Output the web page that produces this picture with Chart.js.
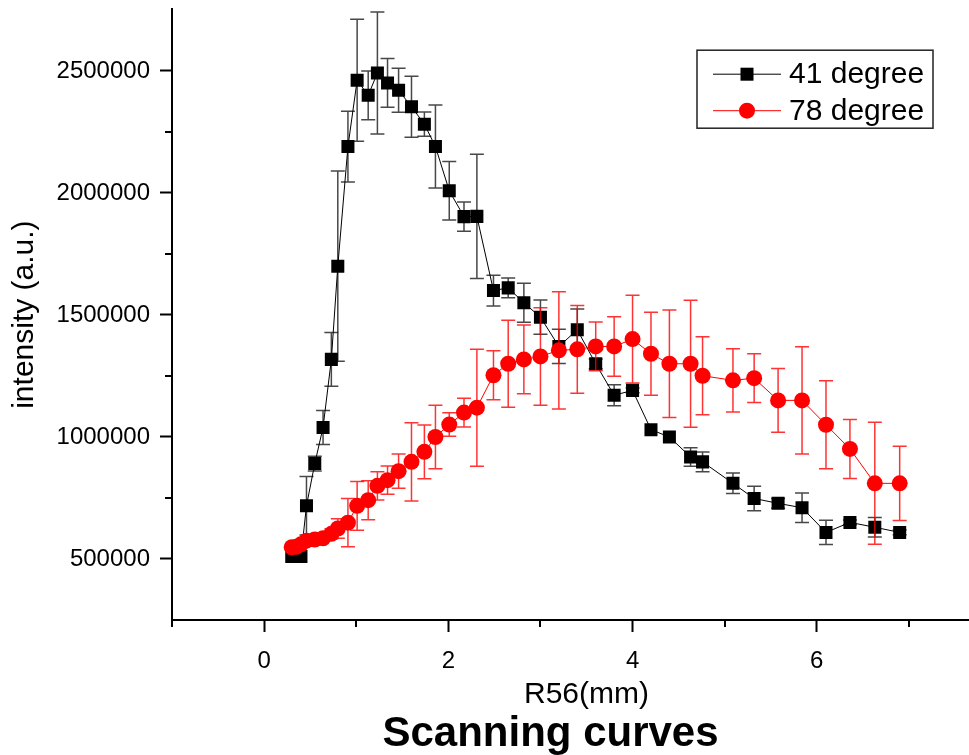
<!DOCTYPE html>
<html lang="en">
<head>
<meta charset="UTF-8">
<title>Scanning curves</title>
<script src="https://cdn.jsdelivr.net/npm/chart.js@4.4.1/dist/chart.umd.min.js"></script>
<style>
    html, body { margin: 0; padding: 0; background: #fff; overflow: hidden; }
    #chart-wrap { width: 1101px; height: 755px; }
</style>
</head>
<body>
<div id="chart-wrap"><canvas id="scan-chart"></canvas></div>
<script>
// 測定位置 R56 (mm)
const r56 = [0.30, 0.35, 0.40, 0.46, 0.55, 0.64, 0.73, 0.80, 0.91, 1.01, 1.13, 1.23, 1.34, 1.46,
    1.60, 1.74, 1.86, 2.01, 2.17, 2.31, 2.49, 2.65, 2.82, 3.00, 3.20, 3.40, 3.60, 3.80, 4.00,
    4.20, 4.40, 4.63, 4.76, 5.09, 5.32, 5.58, 5.84, 6.10, 6.36, 6.63, 6.90];

// 41 degree の強度と誤差
const intensity41 = [510000, 510000, 510000, 718000, 891000, 1039000, 1318000, 1700000, 2190000,
    2462000, 2400000, 2492000, 2451000, 2421000, 2353000, 2282000, 2190000, 2009000, 1903000,
    1904000, 1600000, 1611000, 1550000, 1491000, 1371000, 1439000, 1300000, 1171000, 1191000,
    1030000, 1000000, 918000, 898000, 810000, 748000, 728000, 710000, 609000, 650000, 630000, 609000];
const error41 = [0, 0, 0, 120000, 30000, 70000, 110000, 390000, 145000, 250000, 100000, 250000,
    100000, 90000, 125000, 50000, 170000, 120000, 60000, 255000, 63000, 40000, 80000, 70000,
    70000, 85000, 20000, 43000, 10000, 0, 0, 38000, 40000, 42000, 50000, 20000, 60000, 50000,
    10000, 40000, 10000];

// 78 degree の強度と誤差
const intensity78 = [548000, 550000, 560000, 575000, 580000, 585000, 603000, 625000, 649000,
    718000, 741000, 800000, 823000, 860000, 898000, 939000, 1000000, 1051000, 1100000, 1120000,
    1253000, 1300000, 1318000, 1330000, 1355000, 1359000, 1371000, 1371000, 1401000, 1341000,
    1300000, 1300000, 1251000, 1232000, 1241000, 1150000, 1150000, 1050000, 951000, 810000, 810000];
const error78 = [0, 0, 0, 0, 0, 10000, 20000, 40000, 99000, 100000, 80000, 58000, 58000, 70000,
    160000, 110000, 130000, 48000, 59000, 240000, 100000, 178000, 141000, 200000, 240000, 180000,
    100000, 122000, 180000, 170000, 220000, 260000, 160000, 130000, 100000, 131000, 220000,
    180000, 121000, 250000, 152000];

const seriesLabels = ['41 degree', '78 degree'];

// 目盛り（主・副）
const xTickValues = [0, 2, 4, 6];
const xMinorValues = [-1, 1, 3, 5, 7];
const yTickValues = [500000, 1000000, 1500000, 2000000, 2500000];
const yMinorValues = [750000, 1250000, 1750000, 2250000];

const FONT = "'Liberation Sans', Arial, sans-serif";

document.addEventListener('DOMContentLoaded', () => {
    const ctx = document.getElementById('scan-chart').getContext('2d');

    // 誤差棒（各データセットの描画直前に描く）
    const errorBarPlugin = {
        id: 'errorBars',
        beforeDatasetDraw(chart, args) {
            const ds = chart.data.datasets[args.index];
            if (!ds.errors) return;
            const c = chart.ctx;
            const xs = chart.scales.x;
            const ys = chart.scales.y;
            c.save();
            c.strokeStyle = ds.errorColor;
            c.lineWidth = 1.5;
            ds.data.forEach((p, i) => {
                const err = ds.errors[i];
                if (!err) return;
                const px = xs.getPixelForValue(p.x);
                const top = ys.getPixelForValue(p.y + err);
                const bottom = ys.getPixelForValue(p.y - err);
                c.beginPath();
                c.moveTo(px, top);
                c.lineTo(px, bottom);
                c.moveTo(px - 7, top);
                c.lineTo(px + 7, top);
                c.moveTo(px - 7, bottom);
                c.lineTo(px + 7, bottom);
                c.stroke();
            });
            c.restore();
        }
    };

    // 副目盛り
    const minorTickPlugin = {
        id: 'minorTicks',
        afterDraw(chart) {
            const c = chart.ctx;
            const xs = chart.scales.x;
            const ys = chart.scales.y;
            const area = chart.chartArea;
            c.save();
            c.strokeStyle = '#000';
            c.lineWidth = 2;
            c.beginPath();
            xMinorValues.forEach(v => {
                const px = Math.round(xs.getPixelForValue(v));
                c.moveTo(px, area.bottom);
                c.lineTo(px, area.bottom + 7);
            });
            yMinorValues.forEach(v => {
                const py = Math.round(ys.getPixelForValue(v));
                c.moveTo(area.left, py);
                c.lineTo(area.left - 7, py);
            });
            c.stroke();
            c.restore();
        }
    };

    // タイトルの左端を y 軸ラベル幅だけ内側へ寄せる
    const titleShiftPlugin = {
        id: 'titleShift',
        afterLayout(chart) {
            if (chart.titleBlock) {
                chart.titleBlock.left = chart.chartArea.left - 72;
            }
        }
    };

    // 枠付きの凡例（プロット領域の右上）
    const boxLegendPlugin = {
        id: 'boxLegend',
        afterDraw(chart) {
            const c = chart.ctx;
            const area = chart.chartArea;
            const left = area.left + 525;
            const top = area.top + 41;
            c.save();
            c.strokeStyle = '#222';
            c.lineWidth = 1.5;
            c.strokeRect(left, top, 236, 78);
            chart.data.datasets.forEach((ds, i) => {
                const rowY = top + 24 + i * 36.5;
                c.strokeStyle = ds.borderColor;
                c.lineWidth = 1;
                c.beginPath();
                c.moveTo(left + 16, rowY);
                c.lineTo(left + 84, rowY);
                c.stroke();
                c.fillStyle = ds.pointBackgroundColor;
                if (ds.pointStyle === 'rect') {
                    c.fillRect(left + 50 - 6.5, rowY - 6.5, 13, 13);
                } else {
                    c.beginPath();
                    c.arc(left + 50, rowY, 8, 0, Math.PI * 2);
                    c.fill();
                }
                c.fillStyle = '#000';
                c.font = '30px ' + FONT;
                c.textBaseline = 'middle';
                c.fillText(ds.label, left + 92, rowY + 1);
            });
            c.restore();
        }
    };

    new Chart(ctx, {
        type: 'line',
        data: {
            datasets: [
                {
                    label: seriesLabels[0],
                    data: r56.map((x, i) => ({ x: x, y: intensity41[i] })),
                    errors: error41,
                    errorColor: 'rgba(40, 40, 40, 0.85)',
                    borderColor: '#000',
                    borderWidth: 1,
                    pointStyle: 'rect',
                    pointRadius: 9.2,
                    pointBorderWidth: 0,
                    pointBackgroundColor: '#000',
                    order: 2
                },
                {
                    label: seriesLabels[1],
                    data: r56.map((x, i) => ({ x: x, y: intensity78[i] })),
                    errors: error78,
                    errorColor: 'rgba(255, 0, 0, 0.8)',
                    borderColor: '#ff0000',
                    borderWidth: 1,
                    pointStyle: 'circle',
                    pointRadius: 8,
                    pointBorderWidth: 0,
                    pointBackgroundColor: '#ff0000',
                    order: 1
                }
            ]
        },
        options: {
            responsive: true,
            maintainAspectRatio: false,
            animation: false,
            devicePixelRatio: 1,
            layout: { padding: { top: 8, right: 100, bottom: 0, left: 0 } },
            scales: {
                x: {
                    type: 'linear',
                    min: -1,
                    max: 8,
                    afterBuildTicks: scale => {
                        scale.ticks = xTickValues.map(v => ({ value: v }));
                    },
                    afterFit: scale => {
                        scale.height = 93;
                        scale.paddingLeft = 0;
                        scale.paddingRight = 0;
                    },
                    border: { display: true, color: '#000', width: 2 },
                    grid: { drawOnChartArea: false, drawTicks: true, tickLength: 12, tickWidth: 2, tickColor: '#000' },
                    ticks: {
                        color: '#000',
                        padding: 15,
                        font: { family: FONT, size: 24 },
                        callback: v => String(v)
                    },
                    title: {
                        display: true,
                        text: 'R56(mm)',
                        color: '#000',
                        font: { family: FONT, size: 30 },
                        padding: { top: 0, bottom: 0 }
                    }
                },
                y: {
                    type: 'linear',
                    min: 250000,
                    max: 2753000,
                    afterBuildTicks: scale => {
                        scale.ticks = yTickValues.map(v => ({ value: v }));
                    },
                    afterFit: scale => {
                        scale.width = 172;
                        scale.paddingTop = 0;
                        scale.paddingBottom = 0;
                    },
                    border: { display: true, color: '#000', width: 2 },
                    grid: { drawOnChartArea: false, drawTicks: true, tickLength: 12, tickWidth: 2, tickColor: '#000' },
                    ticks: {
                        color: '#000',
                        padding: 10,
                        font: { family: FONT, size: 24 },
                        callback: v => String(v)
                    },
                    title: {
                        display: true,
                        text: 'intensity (a.u.)',
                        color: '#000',
                        font: { family: FONT, size: 30 },
                        padding: { top: 7, bottom: 0 }
                    }
                }
            },
            plugins: {
                legend: { display: false },
                tooltip: { enabled: false },
                title: {
                    display: true,
                    text: 'Scanning curves',
                    position: 'bottom',
                    color: '#000',
                    font: { family: FONT, size: 42, weight: 'bold', lineHeight: 1 },
                    padding: 0
                }
            }
        },
        plugins: [errorBarPlugin, minorTickPlugin, titleShiftPlugin, boxLegendPlugin]
    });
});
</script>
</body>
</html>
